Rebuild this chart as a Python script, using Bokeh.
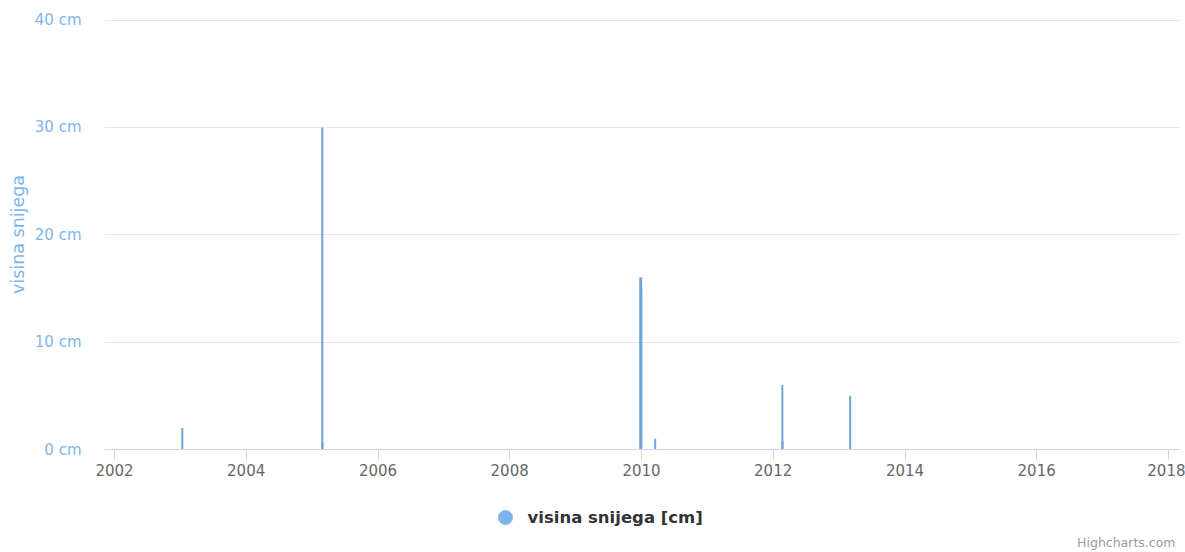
import pandas as pd
from bokeh.plotting import figure
from bokeh.layouts import column
from bokeh.core.properties import value
from bokeh.models import (Range1d, FixedTicker, DatetimeTickFormatter, CustomJSTickFormatter,
                          ColumnDataSource)
from bokeh.embed import file_html
from bokeh.resources import INLINE

# ---- data ----
dates = ["2003-01-12", "2005-02-26", "2005-02-27",
         "2009-12-26", "2009-12-27", "2009-12-28", "2009-12-29", "2009-12-30", "2009-12-31",
         "2010-03-18", "2012-02-21", "2012-02-22", "2013-03-03"]
snow_cm = [2, 30, 0.7,
           16, 16, 16, 16, 16, 15,
           1, 6, 0.8, 5]
tick_years = [2002, 2004, 2006, 2008, 2010, 2012, 2014, 2016, 2018]
y_ticks = [0, 10, 20, 30, 40]
series_name = "visina snijega [cm]"
y_title = "visina snijega"
credit_text = "Highcharts.com"

SERIES_COLOR = "#7cb5ec"
BAR_COLOR = "#6fa5d6"

def ms(s):
    return pd.Timestamp(s).value / 1e6

x_ms = [ms(d) for d in dates]
src = ColumnDataSource(dict(x=x_ms, y0=[0] * len(snow_cm), y1=snow_cm))

FRAME_L, FRAME_R = 104, 1180
YEAR_MS = 365.25 * 86400000
PX_PER_YEAR = 65.875
FRAME_W = FRAME_R - FRAME_L
x_start = ms("2002-01-01") - 10 / PX_PER_YEAR * YEAR_MS
x_end = x_start + FRAME_W / PX_PER_YEAR * YEAR_MS

p = figure(width=1185, height=484, output_backend="svg", toolbar_location=None,
           x_axis_type="datetime",
           x_range=Range1d(x_start, x_end), y_range=Range1d(0, 40.05),
           min_border_left=FRAME_L, min_border_right=1185 - FRAME_R,
           min_border_top=19, min_border_bottom=35)
p.outline_line_color = None
p.background_fill_color = "white"

bars = p.segment(x0="x", y0="y0", x1="x", y1="y1", source=src,
                 line_color=BAR_COLOR, line_width=2)

# x axis
p.xaxis.ticker = FixedTicker(ticks=[ms(f"{y}-01-01") for y in tick_years])
p.xaxis.formatter = DatetimeTickFormatter(years="%Y", months="%Y", days="%Y", hours="%Y")
p.xaxis.axis_line_color = "#ccd6eb"
p.xaxis.major_tick_line_color = "#ccd6eb"
p.xaxis.major_tick_out = 10
p.xaxis.major_tick_in = 0
p.xaxis.minor_tick_line_color = None
p.xaxis.major_label_text_color = "#666666"
p.xaxis.major_label_text_font = "DejaVu Sans"
p.xaxis.major_label_text_font_size = "15px"
p.xaxis.major_label_standoff = 4
p.xgrid.grid_line_color = None

# y axis
p.yaxis.ticker = FixedTicker(ticks=y_ticks)
p.yaxis.formatter = CustomJSTickFormatter(code="return tick + ' cm';")
p.yaxis.axis_line_color = None
p.yaxis.major_tick_line_color = None
p.yaxis.major_tick_out = 0
p.yaxis.major_tick_in = 0
p.yaxis.minor_tick_line_color = None
p.yaxis.minor_tick_out = 0
p.yaxis.major_label_text_color = SERIES_COLOR
p.yaxis.major_label_text_font = "DejaVu Sans"
p.yaxis.major_label_text_font_size = "15px"
p.yaxis.major_label_standoff = 23
p.yaxis.axis_label = y_title
p.yaxis.axis_label_text_color = SERIES_COLOR
p.yaxis.axis_label_text_font = "DejaVu Sans"
p.yaxis.axis_label_text_font_size = "17.5px"
p.yaxis.axis_label_text_font_style = "normal"
p.yaxis.axis_label_standoff = 4
p.ygrid.grid_line_color = "#e6e6e6"
p.ygrid.grid_line_width = 1

# ---- legend / credit strip (frame aligned with main plot; pixel-mapped ranges) ----
q = figure(width=1185, height=68, output_backend="svg", toolbar_location=None,
           x_range=Range1d(FRAME_L, FRAME_R), y_range=Range1d(0, 68),
           min_border=0, min_border_left=FRAME_L, min_border_right=1185 - FRAME_R,
           min_border_top=0, min_border_bottom=0)
q.axis.visible = False
q.grid.visible = False
q.outline_line_color = None

q.scatter(x=[505], y=[35], marker="circle", size=14,
          fill_color=SERIES_COLOR, line_color=SERIES_COLOR)
q.text(x=[527], y=[35], text=[series_name], text_align="left", text_baseline="middle",
       text_font=value("DejaVu Sans"), text_font_style="bold",
       text_font_size="16.5px", text_color="#333333")
q.text(x=[1175], y=[10], text=[credit_text], text_align="right", text_baseline="middle",
       text_font=value("DejaVu Sans"), text_font_size="12.5px", text_color="#999999")

layout = column(p, q, spacing=0)
open("out.html", "w").write(file_html(layout, INLINE))
